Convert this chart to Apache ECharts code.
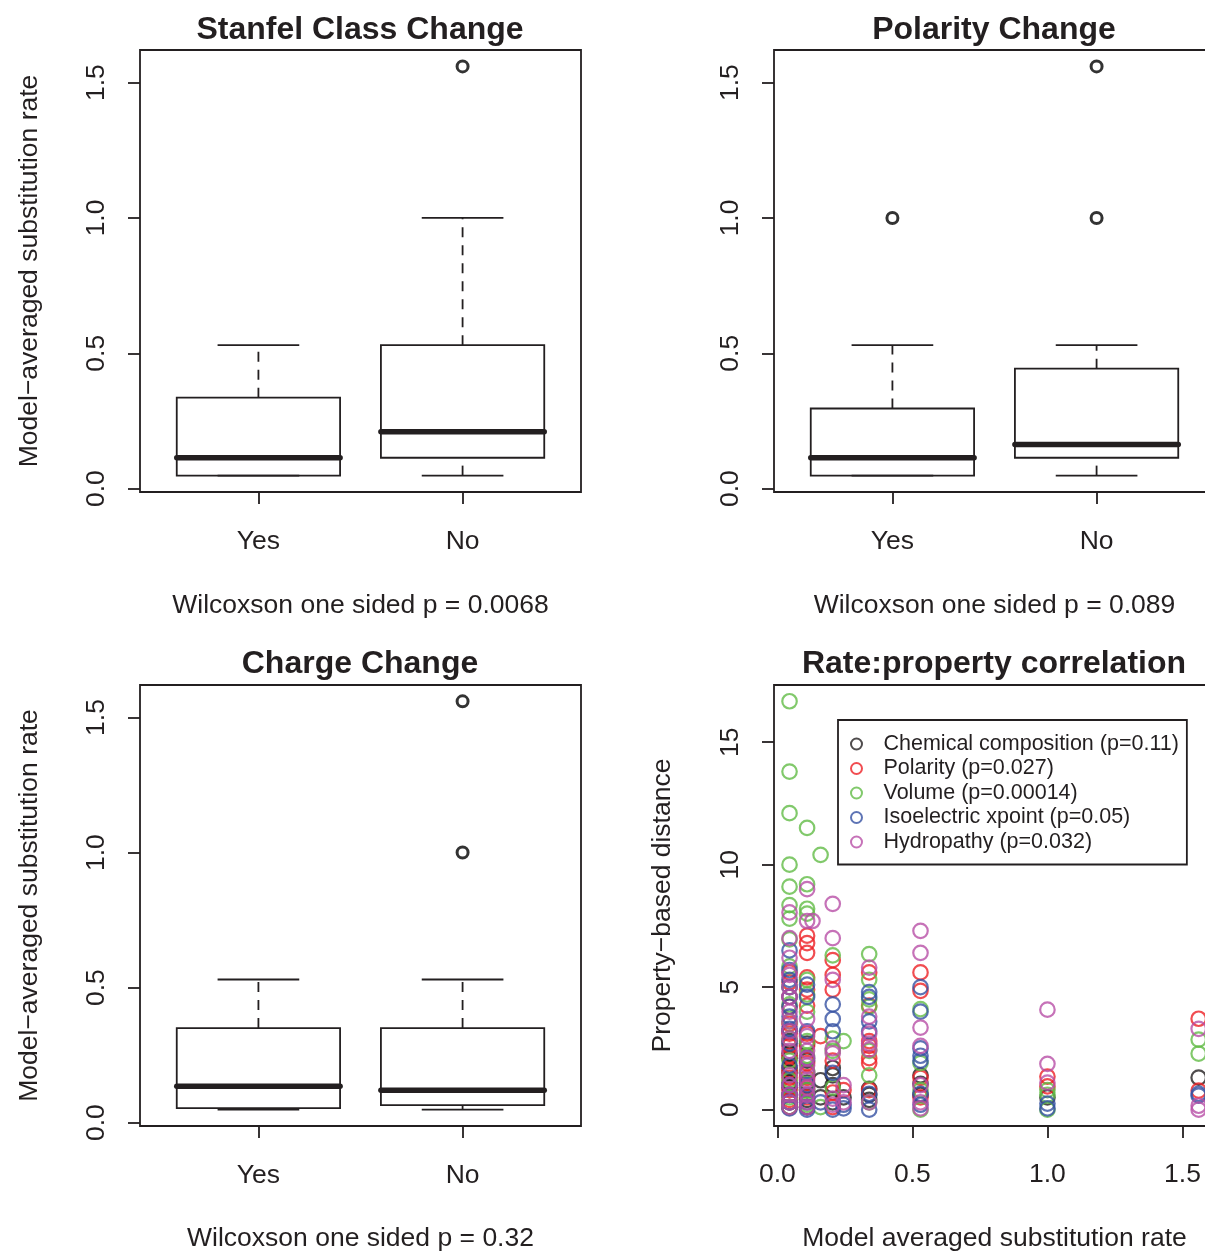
<!DOCTYPE html>
<html>
<head>
<meta charset="utf-8">
<script src="https://cdn.jsdelivr.net/npm/echarts@6/dist/echarts.min.js"></script>
<style>
  html, body { margin: 0; background: #fff; }
  #chart { width: 1205px; height: 1251px; }
</style>
</head>
<body>
<div id="chart"></div>
<script>
const ink = '#231f20'
const font = '"Liberation Sans", Arial, Helvetica, sans-serif'

// box stats: [lower whisker, Q1, median, Q3, upper whisker]
const groups = ['Yes', 'No']
const stanfelBox = [[0.048, 0.048, 0.114, 0.336, 0.53], [0.048, 0.114, 0.21, 0.53, 1.0]]
const stanfelOut = [[2, 1.56]]
const polarityBox = [[0.048, 0.048, 0.114, 0.296, 0.53], [0.048, 0.114, 0.163, 0.443, 0.53]]
const polarityOut = [[1, 1.0], [2, 1.0], [2, 1.56]]
const chargeBox = [[0.048, 0.054, 0.135, 0.35, 0.53], [0.048, 0.065, 0.12, 0.35, 0.53]]
const chargeOut = [[2, 1.0], [2, 1.56]]

const rateTicks = [0, 0.5, 1, 1.5]
const distTicks = [0, 5, 10, 15]

// scatter: [rate, [property distances...]]
const chemical = [
  [0.045, [0.1, 0.3, 0.6, 0.9, 1.1, 1.5, 1.7, 2.1, 2.3, 2.8, 3.2]],
  [0.11, [0.1, 0.4, 0.8, 1.1, 1.5, 2.0, 2.7]],
  [0.16, [0.5, 1.2]],
  [0.205, [0.3, 1.0, 1.4, 1.7]],
  [0.245, [0.5]],
  [0.34, [0.4, 0.6, 0.85]],
  [0.53, [0.6, 1.05, 1.4]],
  [1.0, [0.5]],
  [1.56, [1.31]]
]
const polarity = [
  [0.045, [0.1, 0.4, 0.8, 1.3, 1.6, 2.2, 2.6, 3.1, 3.5, 4.2, 4.6, 5.2, 5.6]],
  [0.11, [0.1, 0.5, 0.9, 1.3, 1.9, 2.6, 3.1, 4.25, 4.9, 5.4, 6.4, 6.8, 7.1]],
  [0.16, [3.0]],
  [0.205, [0.1, 0.7, 2.0, 4.9, 5.5, 6.1]],
  [0.245, [0.8]],
  [0.34, [0.8, 1.9, 2.1, 2.6, 2.8, 4.25, 5.6]],
  [0.53, [0.5, 1.3, 4.85, 5.6]],
  [1.0, [0.95, 1.35]],
  [1.56, [0.78, 3.71]]
]
const volume = [
  [0.045, [0.1, 0.5, 1.2, 2.0, 2.9, 3.6, 4.3, 5.0, 5.85, 6.95, 7.8, 8.35, 9.1, 10.0, 12.1, 13.8, 16.67]],
  [0.11, [0.2, 0.8, 1.6, 2.2, 2.8, 4.0, 4.7, 5.3, 8.0, 8.2, 9.2, 11.5]],
  [0.16, [0.1, 10.4]],
  [0.205, [0.9, 2.4, 2.9, 6.3]],
  [0.245, [2.8]],
  [0.34, [0.3, 1.4, 2.4, 4.2, 4.5, 5.3, 6.35]],
  [0.53, [0.0, 0.8, 1.9, 4.1]],
  [1.0, [0.0, 0.6, 0.8]],
  [1.56, [2.29, 2.86]]
]
const isoelectric = [
  [0.045, [0.05, 0.3, 0.6, 1.0, 1.8, 2.7, 3.3, 3.8, 4.2, 4.6, 5.0, 5.3, 5.7, 6.5]],
  [0.11, [0.0, 0.1, 0.3, 0.6, 1.0, 2.1, 3.2, 4.6, 5.1]],
  [0.16, [0.3]],
  [0.205, [0.0, 1.5, 3.2, 3.7, 4.3]],
  [0.245, [0.05, 0.2]],
  [0.34, [0.0, 0.65, 3.2, 3.6, 4.6, 4.8]],
  [0.53, [0.2, 0.65, 2.0, 2.2, 2.5, 4.0, 5.0]],
  [1.0, [0.05, 0.25]],
  [1.56, [0.57, 0.65]]
]
const hydropathy = [
  [0.045, [0.1, 0.3, 0.6, 1.0, 1.4, 2.4, 2.9, 3.2, 3.6, 4.0, 4.6, 5.0, 5.5, 6.2, 7.0, 8.05]],
  [0.11, [0.1, 0.3, 0.6, 0.9, 1.2, 1.5, 1.8, 2.1, 2.4, 3.0, 3.7, 7.7, 9.0]],
  [0.13, [7.7]],
  [0.205, [0.2, 0.45, 2.3, 2.5, 5.3, 7.0, 8.4]],
  [0.245, [0.3, 1.0]],
  [0.34, [0.3, 2.45, 2.7, 3.1, 3.8, 5.8]],
  [0.53, [0.05, 0.3, 1.0, 2.6, 3.35, 6.4, 7.3]],
  [1.0, [1.1, 1.87, 4.08]],
  [1.56, [0.0, 0.16, 3.3]]
]
const seriesNames = ['Chemical composition (p=0.11)', 'Polarity (p=0.027)', 'Volume (p=0.00014)',
  'Isoelectric xpoint (p=0.05)', 'Hydropathy (p=0.032)']
const seriesColors = ['#231f20', '#ee2026', '#62bb46', '#3651a3', '#b84fa6']

function points(cols) {
  return cols.flatMap(([x, ys]) => ys.map(y => [x, y]))
}

const txt = { color: ink, fontFamily: font, fontSize: 26.5 }

const grids = [
  { left: 140, top: 50, width: 441, height: 442 },
  { left: 774, top: 50, width: 441, height: 442 },
  { left: 140, top: 685, width: 441, height: 441 },
  { left: 774, top: 685, width: 441, height: 441 }
].map(g => Object.assign({
  show: true, borderColor: ink, borderWidth: 1.8, backgroundColor: 'transparent',
  outerBoundsMode: 'none', containLabel: false
}, g))

function xAxisOf(i, opts) {
  return Object.assign({
    type: 'value', gridIndex: i,
    axisLine: { show: false, onZero: false }, splitLine: { show: false },
    nameLocation: 'middle', nameGap: 100, nameTextStyle: txt
  }, opts)
}
function yAxisOf(i, opts) {
  return Object.assign({
    type: 'value', gridIndex: i,
    axisLine: { show: false, onZero: false }, splitLine: { show: false },
    nameLocation: 'middle', nameGap: 97, nameTextStyle: txt
  }, opts)
}
function ticks(values, fmt, extra) {
  return {
    axisTick: { show: true, inside: false, length: 12, customValues: values, lineStyle: { color: ink, width: 1.8 } },
    axisLabel: Object.assign({ customValues: values, formatter: fmt, margin: 36 }, txt, extra)
  }
}

const rateMin = -0.0125, rateMax = 1.6205
const groupX = ticks([1, 2], v => groups[Math.round(v) - 1])
const rateY = ticks(rateTicks, v => v.toFixed(1), { rotate: 90, margin: 30 })

function renderBox(params, api) {
  const x = api.value(0)
  const lo = api.value(1), q1 = api.value(2), med = api.value(3), q3 = api.value(4), hi = api.value(5)
  const c = (a, b) => api.coord([a, b])
  const line = (p1, p2, extra) => ({
    type: 'line',
    shape: { x1: p1[0], y1: p1[1], x2: p2[0], y2: p2[1] },
    style: Object.assign({ stroke: ink, lineWidth: 1.8 }, extra)
  })
  const tl = c(x - 0.4, q3), br = c(x + 0.4, q1)
  return {
    type: 'group',
    children: [
      line(c(x, q3), c(x, hi), { lineDash: [10, 8] }),
      line(c(x, lo), c(x, q1), { lineDash: [10, 8] }),
      line(c(x - 0.2, hi), c(x + 0.2, hi)),
      line(c(x - 0.2, lo), c(x + 0.2, lo)),
      {
        type: 'rect',
        shape: { x: tl[0], y: tl[1], width: br[0] - tl[0], height: br[1] - tl[1] },
        style: { fill: 'none', stroke: ink, lineWidth: 1.8 }
      },
      line(c(x - 0.4, med), c(x + 0.4, med), { lineWidth: 5.5, lineCap: 'round' })
    ]
  }
}

function boxSeries(i, box, out) {
  return [
    {
      type: 'custom', xAxisIndex: i, yAxisIndex: i,
      data: box.map((b, k) => [k + 1].concat(b)),
      encode: { x: 0, y: [1, 2, 3, 4, 5] },
      renderItem: renderBox, silent: true
    },
    {
      type: 'scatter', xAxisIndex: i, yAxisIndex: i, data: out,
      symbol: 'circle', symbolSize: 11, silent: true,
      itemStyle: { color: 'transparent', borderColor: '#000', borderWidth: 3 }
    }
  ]
}

const scatterData = [chemical, polarity, volume, isoelectric, hydropathy]

const option = {
  backgroundColor: '#fff',
  animation: false,
  title: [
    ['Stanfel Class Change', 360, 14],
    ['Polarity Change', 994, 14],
    ['Charge Change', 360, 648],
    ['Rate:property correlation', 994, 648]
  ].map(([text, left, top]) => ({
    text, left, top, textAlign: 'center', padding: 0,
    textStyle: { color: ink, fontFamily: font, fontSize: 32, fontWeight: 'bold' }
  })),
  grid: grids,
  xAxis: [
    xAxisOf(0, Object.assign({ min: 0.42, max: 2.58, name: 'Wilcoxson one sided p = 0.0068' }, groupX)),
    xAxisOf(1, Object.assign({ min: 0.42, max: 2.58, name: 'Wilcoxson one sided p = 0.089' }, groupX)),
    xAxisOf(2, Object.assign({ min: 0.42, max: 2.58, name: 'Wilcoxson one sided p = 0.32', nameGap: 99 }, groupX)),
    xAxisOf(3, Object.assign({ min: rateMin, max: rateMax, name: 'Model averaged substitution rate', nameGap: 99 },
      ticks(rateTicks, v => v.toFixed(1), { margin: 35 })))
  ],
  yAxis: [
    yAxisOf(0, Object.assign({ min: rateMin, max: rateMax, name: 'Model\u2212averaged substitution rate' }, rateY)),
    yAxisOf(1, Object.assign({ min: rateMin, max: rateMax }, rateY)),
    yAxisOf(2, Object.assign({ min: rateMin, max: rateMax, name: 'Model\u2212averaged substitution rate' }, rateY)),
    yAxisOf(3, Object.assign({ min: -0.667, max: 17.333, name: 'Property\u2212based distance', nameGap: 98 },
      ticks(distTicks, v => String(v), { rotate: 90, margin: 30 })))
  ],
  legend: {
    data: seriesNames.map((name, i) => ({
      name, icon: 'circle',
      itemStyle: { color: 'transparent', borderColor: seriesColors[i], borderWidth: 2 }
    })),
    orient: 'vertical', left: 838, top: 720,
    itemWidth: 24, itemHeight: 11, itemGap: 2.5,
    padding: [13, 8, 11.5, 12],
    borderColor: ink, borderWidth: 1.8, backgroundColor: '#fff',
    selectedMode: false,
    textStyle: { color: ink, fontFamily: font, fontSize: 21.5, padding: [0, 0, 0, 10] }
  },
  series: [
    ...boxSeries(0, stanfelBox, stanfelOut),
    ...boxSeries(1, polarityBox, polarityOut),
    ...boxSeries(2, chargeBox, chargeOut),
    ...scatterData.map((d, i) => ({
      type: 'scatter', name: seriesNames[i], xAxisIndex: 3, yAxisIndex: 3,
      data: points(d), symbol: 'circle', symbolSize: 14.5, silent: true,
      itemStyle: { color: 'transparent', borderColor: seriesColors[i], borderWidth: 2.2 }
    }))
  ]
}

const chart = echarts.init(document.getElementById('chart'))
chart.setOption(option)
</script>
</body>
</html>
